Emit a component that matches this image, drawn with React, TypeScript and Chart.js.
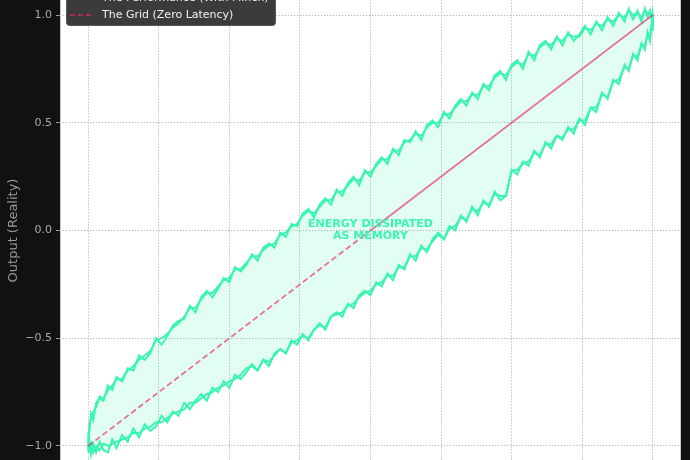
import React, { useEffect, useRef } from "react";
import { Chart, registerables } from "chart.js";

Chart.register(...registerables);

// Input positions shared by every traced branch (denser near the turning points)
const X_SAMPLES = [
  -1, -0.999, -0.996, -0.99, -0.982, -0.972, -0.96, -0.946, -0.93, -0.915,
  -0.9, -0.88, -0.86, -0.84, -0.82, -0.8, -0.78, -0.76, -0.74, -0.72,
  -0.7, -0.68, -0.66, -0.64, -0.62, -0.6, -0.58, -0.56, -0.54, -0.52,
  -0.5, -0.48, -0.46, -0.44, -0.42, -0.4, -0.38, -0.36, -0.34, -0.32,
  -0.3, -0.28, -0.26, -0.24, -0.22, -0.2, -0.18, -0.16, -0.14, -0.12,
  -0.1, -0.08, -0.06, -0.04, -0.02, 0, 0.02, 0.04, 0.06, 0.08,
  0.1, 0.12, 0.14, 0.16, 0.18, 0.2, 0.22, 0.24, 0.26, 0.28,
  0.3, 0.32, 0.34, 0.36, 0.38, 0.4, 0.42, 0.44, 0.46, 0.48,
  0.5, 0.52, 0.54, 0.56, 0.58, 0.6, 0.62, 0.64, 0.66, 0.68,
  0.7, 0.72, 0.74, 0.76, 0.78, 0.8, 0.82, 0.84, 0.86, 0.88,
  0.9, 0.915, 0.93, 0.946, 0.96, 0.972, 0.982, 0.99, 0.996, 0.999, 1,
];

// Upper branch (falling input), cycle A and cycle B
const UPPER_A = [
  -1.0, -0.94, -0.93, -0.85, -0.88, -0.8, -0.78, -0.79, -0.72, -0.74,
  -0.68, -0.7, -0.64, -0.65, -0.58, -0.6, -0.57, -0.5, -0.53, -0.49,
  -0.44, -0.42, -0.41, -0.35, -0.38, -0.31, -0.28, -0.31, -0.27, -0.22,
  -0.24, -0.17, -0.19, -0.16, -0.11, -0.14, -0.08, -0.06, -0.08, -0.01,
  -0.03, 0.03, 0.02, 0.08, 0.1, 0.06, 0.12, 0.15, 0.12, 0.19,
  0.16, 0.22, 0.25, 0.21, 0.28, 0.25, 0.31, 0.34, 0.31, 0.38,
  0.35, 0.42, 0.41, 0.46, 0.42, 0.49, 0.51, 0.48, 0.55, 0.52,
  0.58, 0.61, 0.58, 0.64, 0.61, 0.68, 0.65, 0.72, 0.74, 0.7,
  0.77, 0.79, 0.75, 0.83, 0.79, 0.86, 0.88, 0.84, 0.9, 0.86,
  0.92, 0.88, 0.91, 0.95, 0.91, 0.97, 0.93, 0.99, 0.95, 1.01,
  0.97, 1.03, 0.98, 1.02, 0.97, 1.03, 0.99, 1.02, 0.98, 1.01, 1.0,
];
const UPPER_B = [
  -1.0, -0.96, -0.9, -0.87, -0.84, -0.82, -0.77, -0.78, -0.74, -0.72,
  -0.69, -0.69, -0.65, -0.63, -0.6, -0.58, -0.56, -0.51, -0.5, -0.48,
  -0.45, -0.43, -0.4, -0.36, -0.36, -0.32, -0.29, -0.29, -0.26, -0.23,
  -0.22, -0.18, -0.18, -0.15, -0.12, -0.12, -0.09, -0.07, -0.06, -0.02,
  -0.01, 0.02, 0.03, 0.07, 0.09, 0.08, 0.11, 0.14, 0.14, 0.18,
  0.18, 0.21, 0.24, 0.23, 0.27, 0.27, 0.3, 0.33, 0.33, 0.37,
  0.37, 0.41, 0.42, 0.45, 0.44, 0.48, 0.5, 0.5, 0.54, 0.54,
  0.57, 0.6, 0.6, 0.63, 0.63, 0.67, 0.67, 0.71, 0.73, 0.72,
  0.76, 0.78, 0.77, 0.82, 0.81, 0.85, 0.87, 0.86, 0.89, 0.88,
  0.91, 0.9, 0.9, 0.94, 0.93, 0.96, 0.95, 0.98, 0.97, 1.0,
  0.99, 1.02, 1.0, 1.01, 0.99, 1.02, 1.01, 1.01, 1.0, 1.0, 1.0,
];

// Lower branch (rising input), cycle A and cycle B
const LOWER_A = [
  -1.0, -1.03, -0.98, -1.04, -0.99, -1.03, -0.98, -1.02, -1.03, -0.97,
  -1.01, -0.95, -0.98, -0.92, -0.96, -0.9, -0.93, -0.91, -0.86, -0.89,
  -0.84, -0.86, -0.8, -0.83, -0.79, -0.76, -0.79, -0.73, -0.75, -0.7,
  -0.73, -0.67, -0.69, -0.66, -0.62, -0.65, -0.6, -0.63, -0.57, -0.55,
  -0.57, -0.51, -0.53, -0.48, -0.51, -0.46, -0.43, -0.46, -0.4, -0.38,
  -0.4, -0.34, -0.36, -0.3, -0.28, -0.3, -0.24, -0.26, -0.2, -0.23,
  -0.16, -0.18, -0.11, -0.14, -0.07, -0.1, -0.04, -0.01, -0.04, 0.02,
  0.0, 0.07, 0.04, 0.11, 0.07, 0.14, 0.11, 0.18, 0.14, 0.16,
  0.28, 0.26, 0.32, 0.3, 0.37, 0.34, 0.41, 0.38, 0.44, 0.42,
  0.48, 0.45, 0.52, 0.49, 0.57, 0.55, 0.64, 0.61, 0.7, 0.68,
  0.77, 0.74, 0.82, 0.79, 0.87, 0.84, 0.92, 0.88, 0.96, 0.93, 1.0,
];
const LOWER_B = [
  -1.0, -1.01, -1.02, -0.99, -1.03, -1.0, -1.02, -0.99, -1.0, -0.99,
  -0.98, -0.97, -0.96, -0.94, -0.94, -0.92, -0.91, -0.89, -0.89, -0.87,
  -0.85, -0.84, -0.83, -0.8, -0.8, -0.78, -0.76, -0.75, -0.73, -0.72,
  -0.7, -0.69, -0.67, -0.64, -0.63, -0.65, -0.6, -0.61, -0.58, -0.55,
  -0.57, -0.52, -0.51, -0.49, -0.5, -0.46, -0.44, -0.45, -0.4, -0.39,
  -0.38, -0.35, -0.34, -0.31, -0.29, -0.28, -0.25, -0.24, -0.21, -0.21,
  -0.17, -0.17, -0.12, -0.12, -0.08, -0.09, -0.05, -0.02, -0.04, 0.01,
  0.02, 0.06, 0.05, 0.1, 0.09, 0.13, 0.12, 0.17, 0.16, 0.16,
  0.28, 0.28, 0.31, 0.32, 0.36, 0.35, 0.4, 0.4, 0.44, 0.43,
  0.47, 0.47, 0.51, 0.51, 0.57, 0.57, 0.63, 0.62, 0.69, 0.7,
  0.76, 0.75, 0.81, 0.81, 0.86, 0.86, 0.91, 0.9, 0.95, 0.95, 1.0,
];

// Zero-latency reference line (dashed below the origin, solid above it)
const IDEAL_X = [-1, 0, 1];
const IDEAL_Y = [-1, 0, 1];

const X_TICKS = [-1, -0.75, -0.5, -0.25, 0, 0.25, 0.5, 0.75, 1];
const Y_TICKS = [-1, -0.5, 0, 0.5, 1];
const LEGEND_LABELS = ["The Performance (With Flinch)", "The Grid (Zero Latency)"];
const ANNOTATION_LINES = ["ENERGY DISSIPATED", "AS MEMORY"];
const ANNOTATION_Y = [0.03, -0.025];
const Y_TITLE = "Output (Reality)";

const MINT = "rgb(58,245,176)";
const MINT_FILL = "rgba(58,245,176,0.15)";
const PINK = "rgba(230,40,110,0.65)";
const FONT = '"DejaVu Sans", sans-serif';
const OFFSET = 30; // canvas sits 30px above the page top

const pts = (xs: number[], ys: number[]) => xs.map((x, i) => ({ x, y: ys[i] }));

const decorPlugin = {
  id: "decor",
  beforeDraw(chart: any) {
    const { ctx, chartArea: a, width, height } = chart;
    ctx.save();
    ctx.fillStyle = "#111111";
    ctx.fillRect(0, 0, width, height);
    ctx.fillStyle = "#ffffff";
    ctx.fillRect(a.left, a.top, a.right - a.left, a.bottom - a.top);
    ctx.restore();
  },
  afterDatasetsDraw(chart: any) {
    const { ctx, chartArea: a } = chart;
    const xs = chart.scales.x;
    const ys = chart.scales.y;
    ctx.save();
    ctx.font = `bold 11px ${FONT}`;
    ctx.fillStyle = MINT;
    ctx.textAlign = "center";
    ctx.textBaseline = "middle";
    ANNOTATION_LINES.forEach((t, i) => {
      ctx.fillText(t, xs.getPixelForValue(0), ys.getPixelForValue(ANNOTATION_Y[i]));
    });
    ctx.strokeStyle = "#c8c8c8";
    ctx.lineWidth = 1;
    ctx.strokeRect(a.left + 0.5, a.top + 0.5, a.right - a.left - 1, a.bottom - a.top - 1);
    ctx.restore();
  },
  afterDraw(chart: any) {
    const { ctx } = chart;
    const boxL = 66, boxR = 275, boxT = -14 + OFFSET, boxB = 25 + OFFSET;
    ctx.save();
    ctx.beginPath();
    ctx.roundRect(boxL + 0.5, boxT + 0.5, boxR - boxL, boxB - boxT, 3);
    ctx.fillStyle = "#3b3b3b";
    ctx.fill();
    ctx.strokeStyle = "#595959";
    ctx.lineWidth = 1;
    ctx.stroke();
    const rows = [-1.5 + OFFSET, 15 + OFFSET];
    const styles = [
      { color: MINT, dash: [] as number[], width: 2 },
      { color: PINK, dash: [5, 3], width: 1.8 },
    ];
    rows.forEach((ry, i) => {
      ctx.beginPath();
      ctx.setLineDash(styles[i].dash);
      ctx.strokeStyle = styles[i].color;
      ctx.lineWidth = styles[i].width;
      ctx.moveTo(70, ry);
      ctx.lineTo(94, ry);
      ctx.stroke();
      ctx.setLineDash([]);
      ctx.fillStyle = "#f2f2f2";
      ctx.font = `11px ${FONT}`;
      ctx.textAlign = "left";
      ctx.textBaseline = "middle";
      ctx.fillText(LEGEND_LABELS[i], 102, ry);
    });
    ctx.restore();
  },
};

export default function App() {
  const ref = useRef<HTMLCanvasElement | null>(null);

  useEffect(() => {
    document.body.style.margin = "0";
    document.body.style.background = "#111111";
    document.body.style.overflow = "hidden";
    const canvas = ref.current;
    if (!canvas) return;

    const loop = [
      ...pts(X_SAMPLES, LOWER_A),
      ...pts(X_SAMPLES, UPPER_A).reverse(),
    ];

    const traceStyle = {
      borderColor: MINT,
      borderWidth: 2,
      pointRadius: 0,
      fill: false,
      tension: 0,
      order: 2,
    };

    const chart = new Chart(canvas, {
      type: "line",
      data: {
        datasets: [
          {
            label: LEGEND_LABELS[1],
            data: pts(IDEAL_X, IDEAL_Y),
            borderColor: PINK,
            borderWidth: 1.8,
            pointRadius: 0,
            fill: false,
            order: 0,
            segment: {
              borderDash: (c: any) => (c.p0.parsed.x < 0 ? [6, 3] : []),
            },
          },
          { label: LEGEND_LABELS[0], data: pts(X_SAMPLES, LOWER_A), ...traceStyle },
          { label: "", data: pts(X_SAMPLES, UPPER_A), ...traceStyle },
          { label: "", data: pts(X_SAMPLES, LOWER_B), ...traceStyle },
          { label: "", data: pts(X_SAMPLES, UPPER_B), ...traceStyle },
          {
            label: "",
            data: loop,
            borderColor: "transparent",
            borderWidth: 0,
            backgroundColor: MINT_FILL,
            pointRadius: 0,
            fill: "shape",
            order: 10,
          },
        ] as any,
      },
      options: {
        animation: false,
        responsive: false,
        events: [],
        layout: { padding: { top: 23.5, right: 9, bottom: 0, left: 0 } },
        plugins: {
          legend: { display: false },
          tooltip: { enabled: false },
        },
        scales: {
          x: {
            type: "linear",
            position: "bottom",
            min: -1.1,
            max: 1.1,
            afterBuildTicks: (s: any) => {
              s.ticks = X_TICKS.map((v) => ({ value: v }));
            },
            afterFit: (s: any) => {
              s.height = 22.5;
            },
            grid: {
              color: "#b4b4b4",
              lineWidth: 1,
              tickLength: 4,
              tickColor: "#999999",
            },
            border: { display: false, dash: [1.2, 1.8] },
            ticks: {
              color: "#aaaaaa",
              font: { family: FONT, size: 11 },
              callback: (v: any) => Number(v).toFixed(2).replace("-", "\u2212"),
            },
          },
          y: {
            type: "linear",
            position: "left",
            min: -1.1,
            max: 1.1,
            afterBuildTicks: (s: any) => {
              s.ticks = Y_TICKS.map((v) => ({ value: v }));
            },
            afterFit: (s: any) => {
              s.width = 60;
            },
            grid: {
              color: "#b4b4b4",
              lineWidth: 1,
              tickLength: 4,
              tickColor: "#999999",
            },
            border: { display: false, dash: [1.2, 1.8] },
            ticks: {
              color: "#aaaaaa",
              padding: 4,
              font: { family: FONT, size: 11 },
              callback: (v: any) => Number(v).toFixed(1).replace("-", "\u2212"),
            },
            title: {
              display: true,
              text: Y_TITLE,
              color: "#999999",
              font: { family: FONT, size: 13 },
              padding: { top: 6, bottom: 0 },
            },
          },
        },
      },
      plugins: [decorPlugin],
    });

    return () => chart.destroy();
  }, []);

  return (
    <div style={{ position: "absolute", top: -OFFSET, left: 0, width: 690, height: 520 }}>
      <canvas ref={ref} width={690} height={520} />
    </div>
  );
}
